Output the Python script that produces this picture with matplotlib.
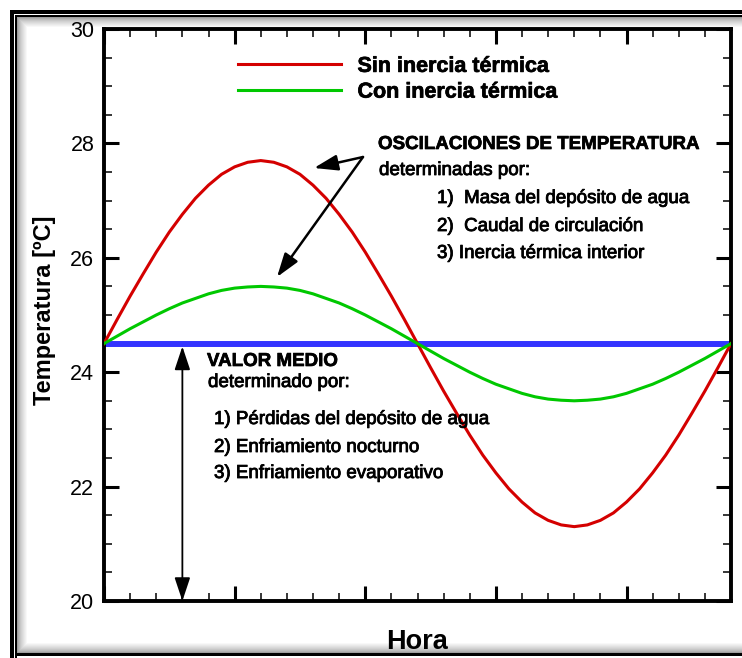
import numpy as np
import matplotlib.pyplot as plt
import matplotlib.patheffects as pe

plt.rcParams['font.family'] = ['Liberation Sans', 'DejaVu Sans']

# half-hourly readings
hora = [h * 0.5 for h in range(49)]
sin_inercia = [24.50, 24.92, 25.33, 25.72, 26.10, 26.45, 26.76, 27.04, 27.27, 27.46,
               27.59, 27.67, 27.70, 27.67, 27.59, 27.46, 27.27, 27.04, 26.76, 26.45,
               26.10, 25.72, 25.33, 24.92, 24.50, 24.08, 23.67, 23.28, 22.90, 22.55,
               22.24, 21.96, 21.73, 21.54, 21.41, 21.33, 21.30, 21.33, 21.41, 21.54,
               21.73, 21.96, 22.24, 22.55, 22.90, 23.28, 23.67, 24.08, 24.50]
con_inercia = [24.50, 24.63, 24.76, 24.88, 25.00, 25.11, 25.21, 25.29, 25.37, 25.43,
               25.47, 25.49, 25.50, 25.49, 25.47, 25.43, 25.37, 25.29, 25.21, 25.11,
               25.00, 24.88, 24.76, 24.63, 24.50, 24.37, 24.24, 24.12, 24.00, 23.89,
               23.79, 23.71, 23.63, 23.57, 23.53, 23.51, 23.50, 23.51, 23.53, 23.57,
               23.63, 23.71, 23.79, 23.89, 24.00, 24.12, 24.24, 24.37, 24.50]
valor_medio = 24.5

W, H = 742, 658
fig = plt.figure(figsize=(W / 100, H / 100), dpi=100)

# frame with a soft inner shadow
img = np.ones((H, W, 3))
shade = np.ones((H, W))
for i in range(10):
    v = 0.62 + 0.38 * (i / 10) ** 0.7
    shade[17:653, 17 + i] = np.minimum(shade[17:653, 17 + i], v)
    shade[17 + i, 17:] = np.minimum(shade[17 + i, 17:], v)
    shade[652 - i, 17:] = np.minimum(shade[652 - i, 17:], v)
img *= shade[:, :, None]
img[10:, 10:14] = 0
img[10:14, 10:] = 0
img[15:, 15:17] = 0
img[15:17, 15:] = 0
img[653:656, 15:] = 0
fig.figimage(img, 0, 0, origin='upper', zorder=-1)

ax = fig.add_axes([104 / W, (H - 601) / H, (731 - 104) / W, (601 - 29) / H])
ax.set_facecolor('white')

ax.axhline(valor_medio, color='#3333ff', lw=4.3, zorder=2)
ax.plot(hora, sin_inercia, color='#d40000', lw=2.2, label='Sin inercia térmica', zorder=3)
ax.plot(hora, con_inercia, color='#00c800', lw=2.2, label='Con inercia térmica', zorder=3)

ax.set_xlim(0, 24)
ax.set_ylim(20, 30)
ax.set_xticks(range(0, 25, 5))
ax.set_xticks(range(0, 25), minor=True)
ax.set_yticks(range(20, 31, 2))
ax.set_yticks(np.arange(20, 30.1, 0.5), minor=True)
ax.tick_params(which='both', direction='in', top=True, right=True, labelbottom=False)
ax.tick_params(which='major', length=11, width=2.2, labelsize=15.5, pad=7)
ax.tick_params(which='minor', length=5.8, width=1.1)
for s in ax.spines.values():
    s.set_linewidth(2.8)

bold_fx = [pe.withStroke(linewidth=0.5, foreground='black')]
leg = ax.legend(loc='upper left', bbox_to_anchor=(0.2137, 0.953), frameon=False,
                borderaxespad=0, borderpad=0, handlelength=4.8, handletextpad=0.75,
                labelspacing=0.22, prop={'weight': 'bold', 'size': 15.5})
for t in leg.get_texts():
    t.set_path_effects(bold_fx)

def px(x, y):
    return (x - 104) / 26.125, 30 - (y - 29) / 57.2

heavy = [pe.withStroke(linewidth=0.6, foreground='black')]
tkw = dict(fontsize=13.5, va='baseline', ha='left')
ax.text(*px(378, 149), 'OSCILACIONES DE TEMPERATURA', fontweight='bold',
        path_effects=bold_fx, **tkw)
ax.text(*px(379, 175), 'determinadas por:', path_effects=heavy, **tkw)
ax.text(*px(437, 203), '1)  Masa del depósito de agua', path_effects=heavy, **tkw)
ax.text(*px(437, 231), '2)  Caudal de circulación', path_effects=heavy, **tkw)
ax.text(*px(437, 258), '3) Inercia térmica interior', path_effects=heavy, **tkw)

ax.text(*px(207, 366), 'VALOR MEDIO', fontweight='bold', path_effects=bold_fx, **tkw)
ax.text(*px(208, 387), 'determinado por:', path_effects=heavy, **tkw)
ax.text(*px(214, 424), '1) Pérdidas del depósito de agua', path_effects=heavy, **tkw)
ax.text(*px(214, 452), '2) Enfriamiento nocturno', path_effects=heavy, **tkw)
ax.text(*px(214, 478), '3) Enfriamiento evaporativo', path_effects=heavy, **tkw)

akw = dict(arrowstyle='-|>,head_length=0.9,head_width=0.3', color='k', lw=1.8,
           mutation_scale=16, shrinkA=0, shrinkB=0)
ax.annotate('', xy=px(314, 168), xytext=px(363, 157), arrowprops=akw)
ax.annotate('', xy=px(277, 277), xytext=px(363, 157), arrowprops=akw)
ax.annotate('', xy=(3.0, valor_medio - 0.05), xytext=(3.0, 20.0),
            arrowprops=dict(akw, arrowstyle='<|-|>,head_length=0.9,head_width=0.3', lw=1.3))

fig.text(45 / W, 1 - 310 / H, 'Temperatura [ºC]', rotation=90, ha='center', va='center',
         fontsize=17, fontweight='bold')
fig.text(417 / W, 1 - 649 / H, 'Hora', ha='center', va='baseline',
         fontsize=19.5, fontweight='bold')

fig.savefig('out.png')
